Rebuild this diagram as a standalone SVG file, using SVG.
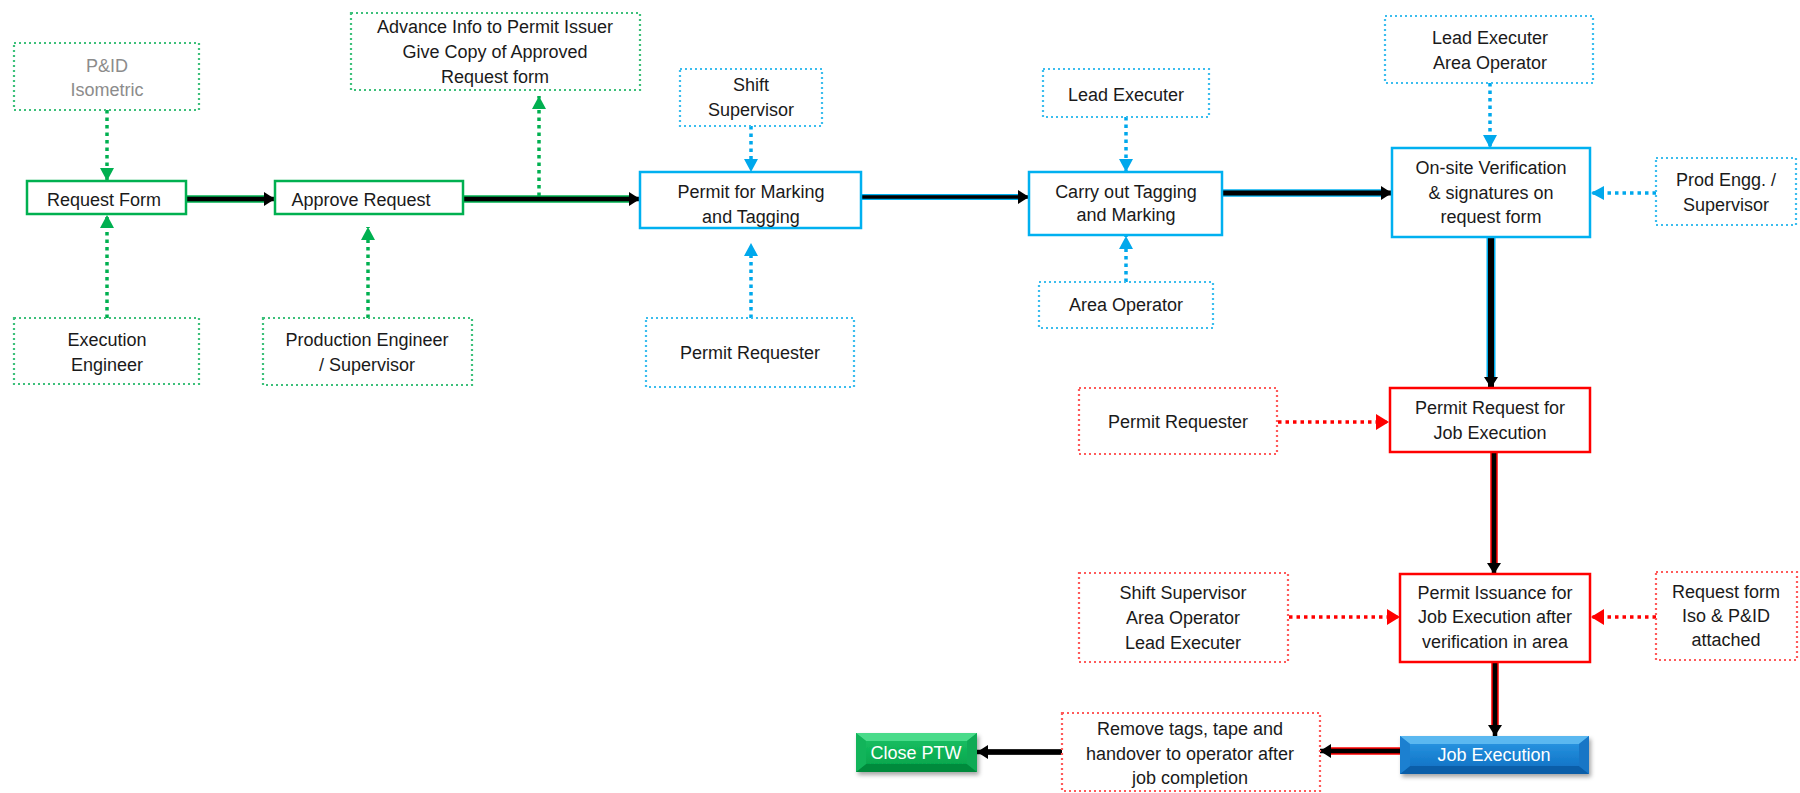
<svg xmlns="http://www.w3.org/2000/svg" width="1800" height="793" viewBox="0 0 1800 793">
<style>
text{font-family:"Liberation Sans",Arial,sans-serif;font-size:18px;fill:#1a1a1a;text-anchor:middle;dominant-baseline:central}
.sg{fill:#fff;stroke:#00B050;stroke-width:2.5}
.sb{fill:#fff;stroke:#00B0F0;stroke-width:2.5}
.sr{fill:#fff;stroke:#FF0000;stroke-width:2.5}
.dg{fill:#fff;stroke:#3CC07A;stroke-width:2.2;stroke-dasharray:2 3}
.db{fill:#fff;stroke:#3BBDEE;stroke-width:2.2;stroke-dasharray:2 3}
.dr{fill:#fff;stroke:#FF5A5A;stroke-width:2.2;stroke-dasharray:2 3}
.cg{fill:none;stroke:#00B050;stroke-width:3.5;stroke-dasharray:3.5 4}
.cb{fill:none;stroke:#00A8EC;stroke-width:3.5;stroke-dasharray:3.5 4}
.cr{fill:none;stroke:#FF0000;stroke-width:3.5;stroke-dasharray:3.5 4}
.hg{fill:none;stroke:#00B050;stroke-width:7.5}
.hb{fill:none;stroke:#00B0F0;stroke-width:7.5}
.hr{fill:none;stroke:#FF0000;stroke-width:7.5}
.hk{fill:none;stroke:#333;stroke-width:6}
.core{fill:none;stroke:#000;stroke-width:4.5}
.wt{fill:#fff}
.gr{fill:#8c8c8c}
</style>
<defs>
<marker id="mG" markerUnits="userSpaceOnUse" markerWidth="14" markerHeight="14" viewBox="0 0 14 14" refX="13" refY="7" orient="auto"><path d="M0,0 L13,7 L0,14 Z" fill="#00B050"/></marker>
<marker id="mB" markerUnits="userSpaceOnUse" markerWidth="14" markerHeight="14" viewBox="0 0 14 14" refX="13" refY="7" orient="auto"><path d="M0,0 L13,7 L0,14 Z" fill="#00A8EC"/></marker>
<marker id="mR" markerUnits="userSpaceOnUse" markerWidth="14" markerHeight="16" viewBox="0 0 14 16" refX="13" refY="8" orient="auto"><path d="M0,0 L13,8 L0,16 Z" fill="#FF0000"/></marker>
<marker id="mK" markerUnits="userSpaceOnUse" markerWidth="12" markerHeight="14" viewBox="0 0 12 14" refX="11" refY="7" orient="auto"><path d="M0,0 L11,7 L0,14 Z" fill="#000"/></marker>
<linearGradient id="gBlue" x1="0" y1="0" x2="0" y2="1"><stop offset="0" stop-color="#2E9BE6"/><stop offset="1" stop-color="#0A6CC0"/></linearGradient>
<linearGradient id="gGreen" x1="0" y1="0" x2="0" y2="1"><stop offset="0" stop-color="#1CC466"/><stop offset="1" stop-color="#00A048"/></linearGradient>
<filter id="sh" x="-10%" y="-20%" width="120%" height="160%"><feDropShadow dx="2" dy="3" stdDeviation="2" flood-color="#000" flood-opacity="0.35"/></filter>
</defs>

<g id="connectors">
<!-- main flow -->
<path class="hg" d="M186,199 H268"/><path class="core" d="M186,199 H275" marker-end="url(#mK)"/>
<path class="hg" d="M463,199 H633"/><path class="core" d="M463,199 H640" marker-end="url(#mK)"/>
<path class="hb" d="M861,197 H1022" style="stroke-width:6"/><path class="core" d="M861,197 H1029" style="stroke-width:3.5" marker-end="url(#mK)"/>
<path class="hb" d="M1222,193 H1385"/><path class="core" d="M1222,193 H1392" style="stroke-width:5" marker-end="url(#mK)"/>
<path class="hb" d="M1491,237 V381" style="stroke-width:9"/><path class="core" d="M1491,237 V388" style="stroke-width:6" marker-end="url(#mK)"/>
<path class="hr" d="M1494,452 V567"/><path class="core" d="M1494,452 V574" marker-end="url(#mK)"/>
<path class="hr" d="M1495,662 V729"/><path class="core" d="M1495,662 V736" marker-end="url(#mK)"/>
<path class="hr" d="M1400,751 H1327"/><path class="core" d="M1400,751 H1320" marker-end="url(#mK)"/>
<path class="hk" d="M1062,752 H984"/><path class="core" d="M1062,752 H977" marker-end="url(#mK)"/>
<!-- dotted inputs -->
<path class="cg" d="M107,110 V181" marker-end="url(#mG)"/>
<path class="cg" d="M107,318 V215" marker-end="url(#mG)"/>
<path class="cg" d="M368,318 V227" marker-end="url(#mG)"/>
<path class="cg" d="M539,196 V96" marker-end="url(#mG)"/>
<path class="cb" d="M751,126 V172" marker-end="url(#mB)"/>
<path class="cb" d="M751,318 V243" marker-end="url(#mB)"/>
<path class="cb" d="M1126,117 V172" marker-end="url(#mB)"/>
<path class="cb" d="M1126,282 V236" marker-end="url(#mB)"/>
<path class="cb" d="M1490,83 V148" marker-end="url(#mB)"/>
<path class="cb" d="M1656,193 H1591" marker-end="url(#mB)"/>
<path class="cr" d="M1278,422 H1389" marker-end="url(#mR)"/>
<path class="cr" d="M1289,617 H1400" marker-end="url(#mR)"/>
<path class="cr" d="M1656,617 H1591" marker-end="url(#mR)"/>
</g>

<g id="pid"><rect class="dg" x="14" y="43" width="185" height="67"/><text class="gr" x="107" y="66">P&amp;ID</text><text class="gr" x="107" y="90">Isometric</text></g>
<g id="request-form"><rect class="sg" x="27" y="181" width="159" height="33"/><text x="104" y="200">Request Form</text></g>
<g id="execution-engineer"><rect class="dg" x="14" y="318" width="185" height="66"/><text x="107" y="340">Execution</text><text x="107" y="365">Engineer</text></g>
<g id="approve-request"><rect class="sg" x="275" y="181" width="188" height="33"/><text x="361" y="200">Approve Request</text></g>
<g id="production-engineer"><rect class="dg" x="263" y="318" width="209" height="67"/><text x="367" y="340">Production Engineer</text><text x="367" y="365">/ Supervisor</text></g>
<g id="advance-info"><rect class="dg" x="351" y="13" width="289" height="77"/><text x="495" y="27">Advance Info to Permit Issuer</text><text x="495" y="52">Give Copy of Approved</text><text x="495" y="77">Request form</text></g>

<g id="permit-marking"><rect class="sb" x="640" y="172" width="221" height="56"/><text x="751" y="192">Permit for Marking</text><text x="751" y="217">and Tagging</text></g>
<g id="shift-supervisor"><rect class="db" x="680" y="69" width="142" height="57"/><text x="751" y="85">Shift</text><text x="751" y="110">Supervisor</text></g>
<g id="permit-requester-1"><rect class="db" x="646" y="318" width="208" height="69"/><text x="750" y="353">Permit Requester</text></g>
<g id="carry-out"><rect class="sb" x="1029" y="172" width="193" height="63"/><text x="1126" y="192">Carry out Tagging</text><text x="1126" y="215">and Marking</text></g>
<g id="lead-executer-1"><rect class="db" x="1043" y="69" width="166" height="48"/><text x="1126" y="95">Lead Executer</text></g>
<g id="area-operator-1"><rect class="db" x="1039" y="282" width="174" height="46"/><text x="1126" y="305">Area Operator</text></g>
<g id="lead-area"><rect class="db" x="1385" y="16" width="208" height="67"/><text x="1490" y="38">Lead Executer</text><text x="1490" y="63">Area Operator</text></g>
<g id="onsite-verification"><rect class="sb" x="1392" y="148" width="198" height="89"/><text x="1491" y="168">On-site Verification</text><text x="1491" y="193">&amp; signatures on</text><text x="1491" y="217">request form</text></g>
<g id="prod-engg"><rect class="db" x="1656" y="158" width="140" height="67"/><text x="1726" y="180">Prod Engg. /</text><text x="1726" y="205">Supervisor</text></g>

<g id="permit-request-job"><rect class="sr" x="1390" y="388" width="200" height="64"/><text x="1490" y="408">Permit Request for</text><text x="1490" y="433">Job Execution</text></g>
<g id="permit-requester-2"><rect class="dr" x="1079" y="388" width="198" height="66"/><text x="1178" y="422">Permit Requester</text></g>
<g id="permit-issuance"><rect class="sr" x="1400" y="574" width="190" height="88"/><text x="1495" y="593">Permit Issuance for</text><text x="1495" y="617">Job Execution after</text><text x="1495" y="642">verification in area</text></g>
<g id="shift-area-lead"><rect class="dr" x="1079" y="573" width="209" height="89"/><text x="1183" y="593">Shift Supervisor</text><text x="1183" y="618">Area Operator</text><text x="1183" y="643">Lead Executer</text></g>
<g id="request-iso"><rect class="dr" x="1656" y="572" width="141" height="88"/><text x="1726" y="592">Request form</text><text x="1726" y="616">Iso &amp; P&amp;ID</text><text x="1726" y="640">attached</text></g>

<g id="job-execution">
<rect x="1400" y="736" width="189" height="38" fill="url(#gBlue)" filter="url(#sh)"/>
<polygon points="1400,736 1589,736 1579,744 1410,744" fill="#5BB8F0"/>
<polygon points="1400,774 1589,774 1579,766 1410,766" fill="#0B5EA8"/>
<polygon points="1400,736 1410,744 1410,766 1400,774" fill="#1C80D0"/>
<polygon points="1589,736 1579,744 1579,766 1589,774" fill="#1876C6"/>
<text class="wt" x="1494" y="755">Job Execution</text>
</g>
<g id="remove-tags"><rect class="dr" x="1062" y="713" width="258" height="78"/><text x="1190" y="729">Remove tags, tape and</text><text x="1190" y="754">handover to operator after</text><text x="1190" y="778">job completion</text></g>
<g id="close-ptw">
<rect x="856" y="733" width="121" height="39" fill="url(#gGreen)" filter="url(#sh)"/>
<polygon points="856,733 977,733 967,741 866,741" fill="#4ADB8A"/>
<polygon points="856,772 977,772 967,764 866,764" fill="#008A3C"/>
<polygon points="856,733 866,741 866,764 856,772" fill="#12B45A"/>
<polygon points="977,733 967,741 967,764 977,772" fill="#0FAA55"/>
<text class="wt" x="916" y="753">Close PTW</text>
</g>
</svg>
